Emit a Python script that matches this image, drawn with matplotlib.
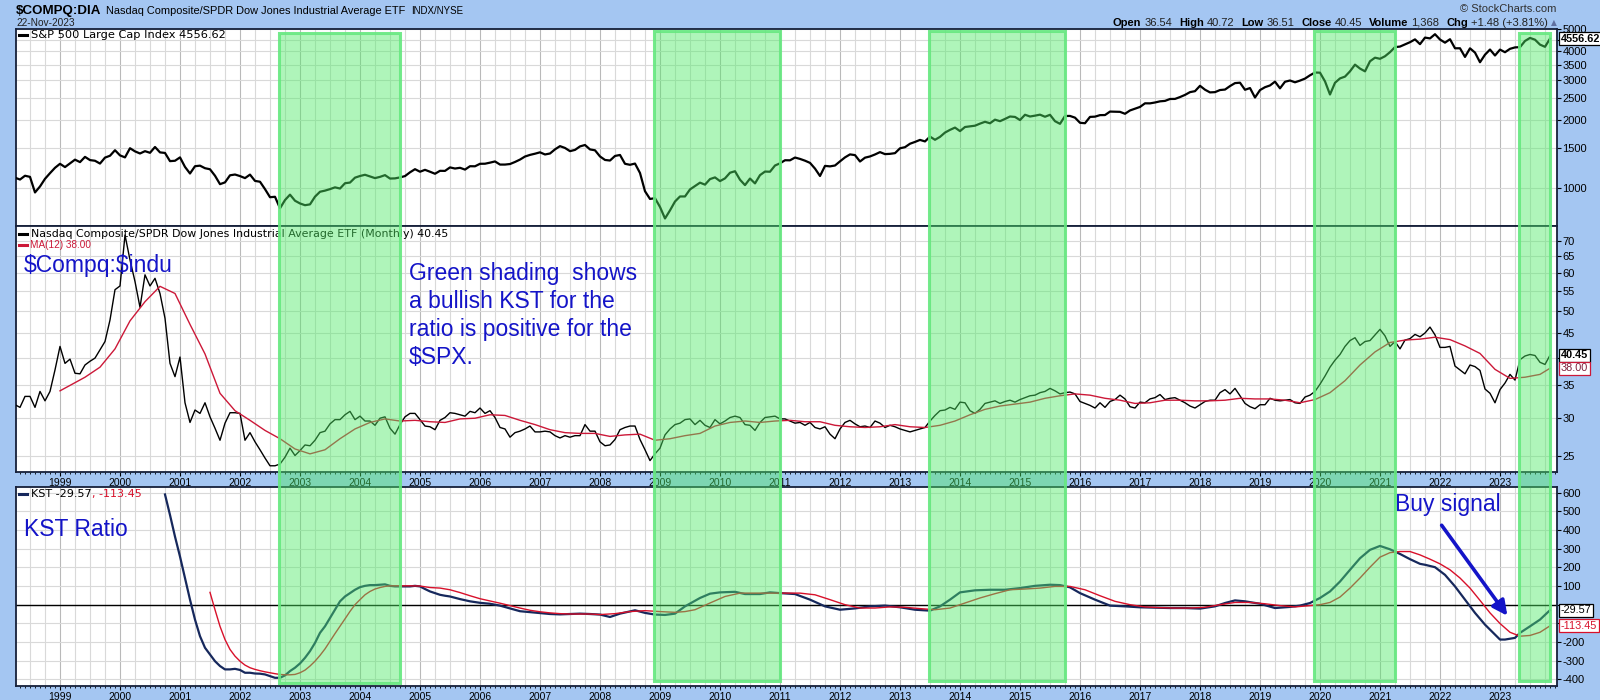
import numpy as np
import matplotlib
matplotlib.use("Agg")
import matplotlib.pyplot as plt
from matplotlib import font_manager
from matplotlib.lines import Line2D
from matplotlib.patches import Rectangle, FancyArrowPatch
from matplotlib.ticker import NullLocator
from matplotlib.transforms import blended_transform_factory

plt.rcParams["axes.unicode_minus"] = False
plt.rcParams["font.family"] = ["Liberation Sans", "DejaVu Sans"]

_names = {f.name for f in font_manager.fontManager.ttflist}
NARROW = "Liberation Sans Narrow" if "Liberation Sans Narrow" in _names else "Liberation Sans"

# ---- data (month index 0 = Jan 1999) ----
first_month = -9  # Apr 1998

spx = [
    1112, 1091, 1134, 1121, 957, 1017, 1099, 1164, 1229,
    1280, 1238, 1286, 1335, 1302, 1373, 1329, 1320, 1283, 1363, 1389, 1469,
    1394, 1366, 1499, 1452, 1421, 1455, 1431, 1518, 1437, 1429, 1315, 1320,
    1366, 1240, 1160, 1249, 1256, 1224, 1211, 1134, 1041, 1060, 1139, 1148,
    1130, 1107, 1147, 1076, 1067, 990, 912, 916, 815, 886, 936, 880,
    856, 841, 848, 917, 964, 975, 990, 1008, 996, 1051, 1058, 1112,
    1131, 1145, 1126, 1107, 1121, 1141, 1102, 1104, 1115, 1130, 1174, 1212,
    1181, 1204, 1181, 1157, 1192, 1191, 1234, 1220, 1229, 1207, 1249, 1248,
    1280, 1281, 1295, 1311, 1270, 1270, 1277, 1304, 1336, 1378, 1401, 1418,
    1438, 1407, 1421, 1482, 1531, 1503, 1455, 1474, 1527, 1549, 1481, 1468,
    1379, 1331, 1323, 1386, 1400, 1280, 1267, 1283, 1166, 969, 896, 903,
    826, 735, 798, 873, 919, 919, 987, 1021, 1057, 1036, 1096, 1115,
    1074, 1104, 1169, 1187, 1089, 1031, 1102, 1049, 1141, 1183, 1181, 1258,
    1286, 1327, 1326, 1364, 1345, 1321, 1292, 1219, 1131, 1253, 1247, 1258,
    1312, 1366, 1408, 1398, 1310, 1362, 1379, 1407, 1441, 1412, 1416, 1426,
    1498, 1515, 1569, 1598, 1631, 1606, 1686, 1633, 1682, 1757, 1806, 1848,
    1783, 1859, 1872, 1884, 1924, 1960, 1931, 2003, 1972, 2018, 2068, 2059,
    1995, 2105, 2068, 2086, 2107, 2063, 2104, 1972, 1920, 2079, 2080, 2044,
    1940, 1932, 2060, 2065, 2097, 2099, 2174, 2171, 2168, 2126, 2199, 2239,
    2279, 2364, 2363, 2384, 2412, 2423, 2470, 2472, 2519, 2575, 2648, 2674,
    2824, 2714, 2641, 2648, 2705, 2718, 2816, 2902, 2914, 2712, 2760, 2507,
    2704, 2784, 2834, 2946, 2752, 2942, 2980, 2926, 2977, 3038, 3141, 3231,
    3226, 2954, 2585, 2912, 3044, 3100, 3271, 3500, 3363, 3270, 3622, 3756,
    3714, 3811, 3973, 4181, 4204, 4298, 4395, 4523, 4308, 4605, 4567, 4766,
    4516, 4374, 4530, 4132, 4132, 3785, 4130, 3955, 3586, 3872, 4080, 3840,
    4077, 3970, 4109, 4169, 4180, 4450, 4589, 4508, 4288, 4194, 4556.62,
]

ratio = [
    31.9, 31.5, 33.2, 33.2, 31.5, 34.0, 32.5, 34.0, 37.7,
    42.2, 38.9, 39.7, 37.1, 37.0, 38.6, 39.3, 39.9, 41.5, 43.2, 47.9, 55.4,
    56.4, 72.0, 63.9, 57.6, 50.9, 59.5, 56.4, 58.5, 54.4, 48.3, 38.9, 36.5,
    40.1, 32.2, 29.3, 31.1, 30.6, 32.2, 30.1, 28.5, 26.9, 29.2, 30.7, 30.7,
    30.6, 26.9, 27.9, 26.7, 25.7, 24.7, 23.8, 23.8, 24.0, 24.8, 25.9, 25.0,
    25.6, 26.3, 26.2, 26.9, 27.9, 28.1, 29.1, 29.7, 29.7, 30.4, 30.9, 29.7,
    30.2, 29.5, 29.5, 28.9, 29.9, 30.1, 28.5, 27.7, 29.0, 30.1, 30.6, 30.6,
    29.7, 28.8, 28.7, 28.3, 29.6, 30.0, 30.7, 30.6, 30.4, 30.2, 30.9, 30.7,
    31.4, 30.6, 31.0, 30.0, 28.6, 28.4, 27.3, 27.9, 28.1, 28.4, 28.8, 28.0,
    28.0, 28.1, 28.0, 27.5, 27.2, 27.5, 27.3, 27.5, 27.5, 29.0, 28.1, 28.1,
    26.7, 26.2, 26.3, 27.0, 28.3, 28.6, 28.8, 28.8, 27.0, 25.7, 24.4, 25.2,
    25.9, 27.6, 28.4, 29.0, 29.2, 29.7, 29.8, 29.0, 29.6, 28.9, 28.6, 29.7,
    29.1, 29.5, 30.0, 30.2, 30.0, 29.0, 28.9, 28.2, 29.3, 30.0, 30.1, 30.2,
    29.8, 29.8, 29.5, 29.2, 29.3, 28.9, 29.3, 28.6, 28.4, 28.7, 27.7, 27.1,
    28.4, 29.3, 29.6, 29.1, 28.7, 28.8, 28.6, 29.5, 29.2, 28.6, 28.9, 28.7,
    28.4, 28.2, 28.0, 28.2, 28.4, 28.6, 29.5, 30.3, 31.0, 31.1, 31.5, 31.2,
    32.3, 32.2, 31.0, 30.6, 31.2, 32.1, 32.3, 32.5, 32.1, 32.4, 32.6, 32.3,
    32.7, 33.0, 33.3, 33.4, 33.8, 34.0, 34.5, 34.1, 33.6, 33.8, 33.9, 33.6,
    32.4, 32.1, 31.8, 31.4, 32.2, 31.5, 32.4, 32.7, 33.4, 32.8, 31.6, 31.4,
    32.3, 32.2, 32.8, 33.0, 33.5, 32.7, 32.9, 33.0, 32.6, 32.2, 31.7, 31.4,
    31.9, 32.4, 32.6, 32.6, 33.8, 34.3, 33.6, 34.5, 33.3, 32.1, 31.6, 31.3,
    31.9, 31.9, 32.9, 32.6, 32.5, 32.6, 32.7, 32.2, 32.1, 33.1, 33.4, 34.0,
    35.2, 36.6, 38.2, 39.5, 40.6, 42.2, 43.4, 44.0, 42.4, 43.2, 43.4, 44.6,
    45.8, 44.4, 42.2, 43.2, 41.7, 43.5, 43.8, 44.7, 44.2, 45.0, 46.3, 44.6,
    42.0, 42.0, 42.2, 38.4, 37.7, 37.0, 38.6, 38.3, 37.6, 34.4, 33.7, 32.2,
    34.3, 35.4, 36.9, 35.9, 39.6, 40.3, 40.6, 40.4, 39.1, 38.7, 40.45,
]

ma_month = [0] + list(range(2, 297, 3)) + [298]
ma_value = [
    34.1, 35.0, 36.4, 38.2, 41.7, 47.7, 52.3, 56.3, 54.4, 46.9,
    40.7, 33.7, 31.0, 29.6, 28.2, 27.1, 25.8, 25.2, 25.7, 27.1,
    28.4, 29.3, 29.8, 29.5, 29.6, 29.4, 29.3, 29.8, 29.9, 30.4,
    30.3, 29.6, 29.0, 28.3, 27.9, 27.8, 27.8, 27.4, 27.6, 27.7,
    26.9, 27.1, 27.5, 27.8, 28.8, 29.3, 29.5, 29.3, 29.5, 29.6,
    29.4, 29.4, 28.9, 28.7, 28.6, 28.7, 29.0, 28.7, 28.6, 28.9,
    29.5, 30.4, 31.2, 31.7, 32.0, 32.3, 32.9, 33.3, 33.6, 33.4,
    32.9, 32.6, 32.1, 32.2, 32.6, 32.6, 32.5, 32.5, 32.6, 32.9,
    32.8, 32.8, 32.6, 32.2, 32.7, 33.8, 35.8, 38.6, 41.1, 43.0,
    43.5, 43.7, 44.1, 43.6, 42.3, 40.8, 37.8, 36.2, 36.4, 36.9,
    38.0,
]

kst_month = [
    21, 22, 23, 24, 25, 26, 27, 28, 29, 30,
    31, 32, 33, 34, 35, 36, 37, 38, 39, 40,
    41, 42, 43, 44, 45, 46, 47, 48, 49, 50,
    51, 52, 53, 54, 55, 56, 57, 58, 59, 60,
    61, 62, 63, 64, 65, 66, 67, 68, 69, 70,
    71, 72, 73, 74, 75, 76, 77, 78, 80, 82,
    84, 86, 88, 90, 92, 94, 96, 98, 100, 102,
    104, 106, 108, 110, 112, 115, 117, 119, 121, 123,
    125, 128, 130, 132, 135, 137, 140, 142, 144, 147,
    150, 153, 156, 159, 162, 165, 168, 171, 174, 176,
    178, 180, 183, 186, 189, 192, 195, 198, 200, 202,
    204, 207, 210, 213, 216, 219, 222, 225, 228, 231,
    233, 235, 237, 240, 243, 246, 248, 250, 252, 254,
    256, 258, 260, 262, 264, 266, 268, 270, 272, 273,
    275, 277, 279, 281, 283, 285, 287, 288, 289, 291,
    292, 294, 296, 298,
]
kst_value = [
    591, 481, 365, 258, 143, 27, -80, -169, -231, -267,
    -303, -329, -347, -347, -344, -350, -365, -365, -369, -370,
    -374, -383, -392, -392, -379, -356, -338, -315, -285, -249,
    -205, -151, -116, -71, -27, 18, 44, 62, 80, 94,
    101, 105, 105, 107, 109, 101, 98, 98, 98, 98,
    101, 98, 84, 71, 62, 53, 48, 44, 30, 18,
    10, 5, -5, -20, -35, -40, -45, -50, -52, -50,
    -48, -50, -53, -66, -48, -30, -44, -53, -55, -48,
    -9, 36, 59, 66, 69, 57, 57, 66, 62, 57,
    27, -9, -27, -20, -9, -5, -14, -27, -32, -9,
    27, 66, 77, 80, 80, 89, 101, 107, 105, 93,
    62, 27, -5, -9, -14, -16, -18, -18, -21, -9,
    9, 23, 18, 5, -18, -12, -5, 9, 36, 71,
    124, 187, 249, 294, 315, 297, 272, 244, 219, 214,
    201, 160, 98, 27, -44, -107, -160, -187, -187, -178,
    -151, -116, -80, -29.57,
]

sig_month = [
    30, 31, 32, 33, 34, 35, 36, 37, 38, 39,
    40, 41, 42, 43, 44, 45, 46, 47, 48, 49,
    50, 51, 52, 53, 54, 55, 56, 57, 58, 59,
    60, 61, 62, 63, 64, 65, 66, 67, 68, 70,
    72, 74, 76, 78, 80, 82, 84, 86, 88, 90,
    92, 94, 96, 98, 100, 102, 104, 106, 108, 111,
    114, 117, 120, 123, 125, 127, 130, 133, 136, 139,
    142, 145, 148, 151, 154, 157, 160, 163, 166, 169,
    172, 175, 178, 181, 184, 187, 190, 193, 196, 199,
    202, 205, 208, 211, 214, 217, 220, 223, 226, 229,
    232, 235, 238, 241, 244, 247, 250, 252, 254, 256,
    258, 260, 262, 264, 266, 268, 270, 272, 274, 276,
    278, 280, 282, 284, 286, 288, 290, 292, 294, 296,
    298,
]
sig_value = [
    66, -27, -116, -187, -240, -276, -303, -324, -338, -347,
    -354, -360, -365, -370, -374, -376, -376, -374, -365, -351,
    -329, -303, -272, -237, -196, -155, -116, -76, -36, 0,
    27, 53, 71, 84, 92, 98, 101, 101, 101, 101,
    100, 92, 89, 80, 65, 48, 32, 20, 8, -5,
    -18, -30, -38, -44, -48, -50, -50, -50, -53, -48,
    -37, -32, -37, -41, -37, -27, 9, 44, 62, 62,
    62, 62, 62, 53, 27, 0, -18, -18, -12, -14,
    -21, -27, -18, 9, 36, 59, 80, 84, 89, 98,
    98, 80, 48, 18, 0, -12, -16, -18, -18, -14,
    0, 12, 12, 5, -5, -12, -5, 0, 12, 41,
    89, 143, 201, 255, 279, 285, 285, 267, 244, 219,
    187, 143, 89, 23, -44, -101, -148, -169, -165, -148,
    -113.45,
]

# bullish KST periods (month index)
band_start = [43.8, 118.8, 173.8, 250.8, 291.8]
band_end = [68.0, 143.9, 201.0, 267.0, 298.0]

years = list(range(1999, 2024))

assert len(spx) == len(ratio)
assert len(ma_month) == len(ma_value)
assert len(kst_month) == len(kst_value)
assert len(sig_month) == len(sig_value)

months = np.arange(len(spx)) + first_month

# ---- styling ----
BG = "#a4c6f2"
EDGE = "#16203a"
GRID = "#d9d9d9"
GRID_YEAR = "#b9b9b9"
BLUE = "#1414c8"
RED = "#d8102a"
MARED = "#cc1838"
NAVY = "#16285c"

W, H = 1600, 700
LEFT, RIGHT = 16, 1557


def fx(x):
    return x / W


def fy(y):
    return 1 - y / H


fig = plt.figure(figsize=(16, 7), dpi=100)
fig.patch.set_facecolor(BG)


def panel(top, bottom, labels=True):
    ax = fig.add_axes([fx(LEFT), fy(bottom), (RIGHT - LEFT) / W, (bottom - top) / H])
    ax.set_xlim(-8.8, 299.4)
    ax.set_facecolor("white")
    for s in ax.spines.values():
        s.set_color(EDGE)
        s.set_linewidth(1.3)
    ax.yaxis.tick_right()
    ax.tick_params(axis="y", which="major", direction="out", length=3, pad=1,
                   labelsize=8, colors="black")
    ax.set_xticks([12 * (y - 1999) for y in years])
    ax.set_xticks(np.arange(-8, 300), minor=True)
    if labels:
        ax.set_xticklabels([str(y) for y in years], fontsize=7.5)
        ax.tick_params(axis="x", which="major", length=3, pad=1, direction="out")
        ax.tick_params(axis="x", which="minor", length=1.5, direction="out")
    else:
        ax.set_xticklabels([])
        ax.tick_params(axis="x", which="both", length=0)
    for m in range(-6, 300, 3):
        ax.axvline(m, color=GRID_YEAR if m % 12 == 0 else GRID, lw=0.8, zorder=0.5)
    ax.grid(axis="y", color=GRID, lw=0.8)
    ax.set_axisbelow(True)
    return ax


ax1 = panel(28.5, 226, labels=False)
ax2 = panel(226, 472)
ax3 = panel(487, 686)

# top: S&P 500
ax1.plot(months, spx, color="black", lw=1.6, zorder=3)
ax1.set_yscale("log")
ax1.set_ylim(681, 5050)
t1 = [1000, 1500, 2000, 2500, 3000, 3500, 4000, 4500, 5000]
ax1.set_yticks(t1)
ax1.set_yticklabels(["" if v == 4500 else str(v) for v in t1], family=NARROW, fontsize=8)
ax1.yaxis.set_minor_locator(NullLocator())

# middle: ratio and MA(12)
ax2.plot(months, ratio, color="black", lw=1.0, zorder=3)
ax2.plot(ma_month, ma_value, color=MARED, lw=1.0, zorder=3)
ax2.set_yscale("log")
ax2.set_ylim(23.1, 75.2)
t2 = list(range(25, 75, 5))
ax2.set_yticks(t2)
ax2.set_yticklabels(["" if v == 40 else str(v) for v in t2], family=NARROW, fontsize=8)
ax2.yaxis.set_minor_locator(NullLocator())

# bottom: KST
ax3.axhline(0, color="black", lw=1.0, zorder=2)
ax3.plot(kst_month, kst_value, color=NAVY, lw=1.6, zorder=3)
ax3.plot(sig_month, sig_value, color=RED, lw=1.0, zorder=3)
ax3.set_ylim(-436, 631)
t3 = list(range(-400, 700, 100))
ax3.set_yticks(t3)
ax3.set_yticklabels(["" if v in (-100, 0) else str(v) for v in t3], family=NARROW,
                    fontsize=8)

for ax in (ax2, ax3):
    for lab in ax.get_xticklabels():
        lab.set_family("Liberation Sans")
        lab.set_fontsize(7.5)


def value_box(ax, v, s, color, edge, bold=False):
    tr = blended_transform_factory(ax.transAxes, ax.transData)
    ax.text(1.0 + 4 / (RIGHT - LEFT), v, s, transform=tr, ha="left", va="center",
            fontsize=7.8, family=NARROW, color=color,
            fontweight="bold" if bold else "normal",
            bbox=dict(boxstyle="square,pad=0.15", fc="white", ec=edge, lw=0.9),
            clip_on=False, zorder=10)


value_box(ax1, spx[-1], f"{spx[-1]:.2f}", "black", "black", bold=True)
value_box(ax2, ratio[-1], f"{ratio[-1]:.2f}", "black", "black", bold=True)
value_box(ax2, ma_value[-1], f"{ma_value[-1]:.2f}", "#80203c", MARED)
value_box(ax3, kst_value[-1], f"{kst_value[-1]:.2f}", "black", "black")
value_box(ax3, sig_value[-1], f"{sig_value[-1]:.2f}", RED, RED)

# green shading for bullish KST periods
band_tr = blended_transform_factory(ax3.transData, fig.transFigure)
for i, (s, e) in enumerate(zip(band_start, band_end)):
    top = 33 if i in (0, 4) else 31
    bottom = 683 if i == 0 else 681
    fig.add_artist(Rectangle((s, fy(bottom)), e - s, fy(top) - fy(bottom),
                             transform=band_tr, fc=(0.31, 0.92, 0.40, 0.45),
                             ec=(0.40, 0.91, 0.50, 0.9), lw=2.2, zorder=5))


def ftext(x, y, s, **kw):
    return fig.text(fx(x), fy(y), s, parse_math=False, **kw)


def dash(x0, x1, y, color):
    fig.add_artist(Line2D([fx(x0), fx(x1)], [fy(y), fy(y)], color=color, lw=2.2,
                          transform=fig.transFigure, zorder=3))


renderer = fig.canvas.get_renderer()


def width(t):
    return t.get_window_extent(renderer).width


# header
ct = ftext(16, 14.3, "$COMPQ:DIA", fontsize=9.6, fontweight="bold", va="baseline")
nx = 16 + width(ct) + 5
nt = ftext(nx, 14.3, "Nasdaq Composite/SPDR Dow Jones Industrial Average ETF",
           fontsize=7.9, va="baseline")
ftext(nx + width(nt) + 6, 14.3, "INDX/NYSE", fontsize=7, va="baseline")
ftext(16, 25.5, "22-Nov-2023", fontsize=7.3, va="baseline", color="#202020")
ftext(1556, 12.5, "\u00a9 StockCharts.com", fontsize=8, va="baseline", ha="right",
      color="#303030")

bold = dict(fontsize=8, fontweight="bold")
norm = dict(fontsize=8, color="#202020")
parts = [("Open", 3, bold), ("36.54", 7, norm), ("High", 3, bold), ("40.72", 7, norm),
         ("Low", 3, bold), ("36.51", 7, norm), ("Close", 3, bold), ("40.45", 7, norm),
         ("Volume", 3, bold), ("1,368", 7, norm), ("Chg", 3, bold),
         ("+1.48 (+3.81%)", 3, norm),
         ("\u25b2", 0, dict(fontsize=5.5, color="#6070a0", family="DejaVu Sans"))]
items = []
for s, gap, kw in parts:
    t = ftext(0, 25.5, s, va="baseline", **kw)
    items.append((t, width(t), gap))
total = sum(w + g for _, w, g in items)
x = 1557 - total
for t, w, g in items:
    t.set_x(fx(x))
    x += w + g

# panel legends
dash(19, 27, 35, "black")
ftext(31, 35, "S&P 500 Large Cap Index 4556.62", fontsize=8.2, family="DejaVu Sans",
      va="center")
dash(19, 27, 234, "black")
ftext(31, 234, "Nasdaq Composite/SPDR Dow Jones Industrial Average ETF (Monthly) 40.45",
      fontsize=7.9, family="DejaVu Sans", va="center")
dash(19, 27, 244.5, MARED)
ftext(30, 244.5, "MA(12) 38.00", fontsize=7.2, color=MARED, va="center")
dash(19, 27, 494, NAVY)
kt = ftext(31, 494, "KST -29.57", fontsize=8, family="DejaVu Sans", va="center")
ftext(31 + width(kt), 494, ", -113.45", fontsize=8, family="DejaVu Sans", va="center",
      color=RED)

# annotations
ftext(24, 271.5, "$Compq:$indu", fontsize=16.5, color=BLUE, va="baseline")
for i, line in enumerate(["Green shading  shows", "a bullish KST for the",
                          "ratio is positive for the", "$SPX."]):
    ftext(409, 280 + 28 * i, line, fontsize=16.5, color=BLUE, va="baseline")
ftext(24, 536, "KST Ratio", fontsize=16.5, color=BLUE, va="baseline")
ftext(1395, 510.5, "Buy signal", fontsize=16.5, color=BLUE, va="baseline")

arrow = FancyArrowPatch((fx(1440), fy(523)), (fx(1509), fy(618)),
                        transform=fig.transFigure, arrowstyle="-|>",
                        mutation_scale=22, lw=2.6, color=BLUE, zorder=6)
fig.add_artist(arrow)

fig.savefig("out.png", dpi=100, facecolor=BG)
